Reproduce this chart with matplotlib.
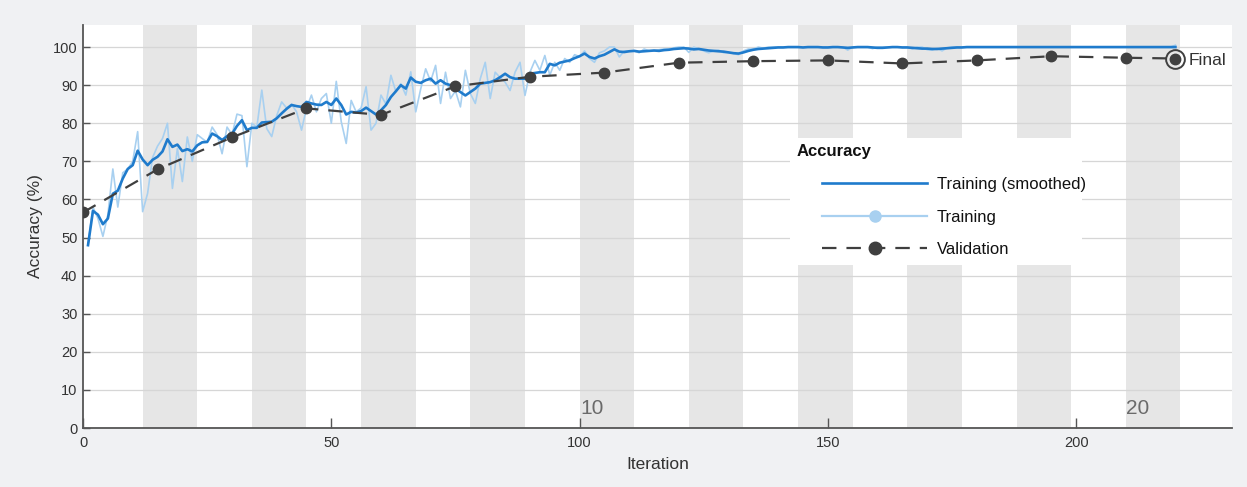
import matplotlib
matplotlib.use('Agg')
import matplotlib.pyplot as plt
from matplotlib.patches import Rectangle
from matplotlib.lines import Line2D

plt.rcParams['font.family'] = ['Liberation Sans', 'DejaVu Sans']

# Data #########################################################################
iters = list(range(1, 221))

smoothed = [
    48, 57, 56, 53.5, 55, 61.5, 62.3, 65.5, 68, 69,
    72.8, 70.5, 69, 70.4, 71.2, 72.6, 75.8, 73.8, 74.4, 72.7,
    73.2, 72.6, 74.2, 75, 75.1, 77.3, 76.6, 75.6, 76.6, 77.2,
    79.3, 80.8, 78.2, 78.8, 78.8, 80.2, 80.3, 80.4, 81.3, 82.6,
    83.8, 84.8, 84.5, 84.3, 85.6, 85.2, 84.9, 84.8, 85.6, 84.8,
    86.5, 84.8, 82.3, 83, 82.8, 83.2, 84.1, 83.2, 82.3, 83.4,
    84.8, 86.9, 88.4, 90, 89.1, 92, 90.9, 90.6, 91.3, 91.7,
    90.4, 91.3, 90.4, 90, 89.1, 88.2, 87.3, 88.2, 89.1, 90.4,
    90.6, 90.8, 91.3, 92.1, 93, 92.1, 91.7, 91.7, 91.7, 93,
    93.2, 93.4, 93.4, 95.6, 95.2, 95.9, 96.2, 96.5, 97.1, 97.6,
    98.3, 97.4, 97, 97.6, 98, 98.7, 99.4, 98.8, 98.7, 98.9,
    99, 98.8, 98.9, 99, 99.1, 99, 99.2, 99.3, 99.5, 99.6,
    99.7, 99.6, 99.4, 99.5, 99.3, 99.1, 99, 98.9, 98.8, 98.6,
    98.4, 98.3, 98.6, 99, 99.3, 99.5, 99.6, 99.7, 99.8, 99.9,
    99.9, 100, 100, 100, 99.9, 100, 100, 100, 99.9, 99.9,
    100, 100, 99.9, 99.8, 99.9, 100, 100, 100, 99.9, 99.8,
    99.8, 99.9, 100, 100, 99.9, 99.9, 99.8, 99.7, 99.6, 99.6,
    99.5, 99.5, 99.6, 99.7, 99.8, 99.9, 99.9, 100, 100, 100,
    100, 100, 100, 100, 100, 100, 100, 100, 100, 100,
    100, 100, 100, 100, 100, 100, 100, 100, 100, 100,
    100, 100, 100, 100, 100, 100, 100, 100, 100, 100,
    100, 100, 100, 100, 100, 100, 100, 100, 100, 100,
]

training = [
    48, 58, 55, 50.3, 56, 68, 58, 67, 68, 70,
    77.8, 56.8, 61.6, 71, 74, 76, 80, 62.9, 73.4, 64.7,
    76.4, 70, 77, 76, 75, 79, 77, 72, 79, 77,
    82.4, 82, 68.6, 80, 79, 88.7, 78.6, 76.5, 82, 85.6,
    84, 85, 83, 78.2, 84, 87.4, 83, 86.5, 87.8, 80,
    91, 80.4, 74.7, 86, 83, 84, 89.6, 78.2, 80, 87.4,
    85, 92.6, 88.3, 90.4, 87.4, 93.5, 83, 89, 94.3, 91,
    95.2, 85.2, 93.4, 86.5, 88.5, 84.3, 93.9, 87.8, 85.2, 91.7,
    96, 86.5, 93.4, 92, 90.8, 88.6, 93.4, 96, 87.3, 93.4,
    96.5, 93.9, 97.8, 92.6, 96, 93.9, 97, 96, 98, 97.5,
    99, 97, 96, 98.5, 99, 100, 100, 97.4, 99, 99,
    99, 98.5, 99.5, 99, 99, 99.3, 99.5, 99.5, 99.8, 100,
    100, 98.6, 100, 99.5, 99, 98.5, 99, 99.2, 98.5, 98.6,
    98.3, 98, 99, 99.5, 99.5, 100, 99.7, 100, 100, 100,
    100, 100, 100, 100, 100, 100, 100, 100, 100, 100,
    100, 100, 100, 99.2, 100, 100, 100, 100, 99.6, 100,
    100, 100, 100, 100, 100, 100, 99.5, 100, 100, 99.3,
    99.2, 99.7, 99, 99.8, 100, 100, 100, 100, 100, 100,
    100, 100, 100, 100, 100, 100, 100, 100, 100, 100,
    100, 100, 100, 100, 100, 100, 100, 100, 100, 100,
    100, 100, 100, 100, 100, 100, 100, 100, 100, 100,
    100, 100, 100, 100, 100, 100, 100, 100, 100, 100.5,
]

val_iters = [0, 15, 30, 45, 60, 75, 90, 105, 120, 135, 150, 165, 180, 195, 210, 220]
validation = [56.6, 67.9, 76.3, 83.9, 82.2, 89.7, 92.2, 93.3, 95.9, 96.3, 96.5, 95.7, 96.5, 97.6, 97.2, 97.0]

iters_per_epoch = 11
n_epochs = 20
epoch_labels = [10, 20]

# Colours ######################################################################
BG = '#f0f1f3'
BAND = '#e6e6e6'
DARK = '#3f3f3f'
BLUE = '#1f7bcc'
LIGHT = '#a8d0f0'
DASH = (6.5, 4.5)

fig = plt.figure(figsize=(12.47, 4.87), dpi=100, facecolor=BG)
ax = fig.add_axes([0.0666, 0.1211, 0.9214, 0.8276])
ax.set_facecolor('white')

# Grey bands for every other epoch
for k in range(2, n_epochs + 1, 2):
    ax.axvspan(iters_per_epoch * (k - 1) + 1, iters_per_epoch * k + 1, color=BAND, lw=0, zorder=0)

ax.set_axisbelow(True)
ax.yaxis.grid(True, color='#d6d6d6', lw=0.9)
ax.xaxis.grid(False)

# White box behind the legend
ax.add_patch(Rectangle((0.615, 0.404), 0.254, 0.316, transform=ax.transAxes,
                       facecolor='white', edgecolor='none', zorder=1))

# Epoch labels
for e in epoch_labels:
    ax.text(iters_per_epoch * (e - 1) + 1.1, 5.2, str(e), fontsize=15, color='#6a6a6a',
            va='center', ha='left', zorder=3)

# Lines
ax.plot(iters, training, color=LIGHT, lw=1.2, zorder=3)
ax.plot(iters, smoothed, color=BLUE, lw=1.9, zorder=4)
ax.plot(val_iters, validation, color=DARK, lw=1.6, dashes=DASH, marker='o',
        markersize=7.5, markerfacecolor=DARK, markeredgecolor=DARK, zorder=5)

# Final marker
ax.plot(val_iters[-1], validation[-1], marker='o', markersize=13.5, markerfacecolor='none',
        markeredgecolor=DARK, markeredgewidth=1.4, zorder=6)
ax.text(val_iters[-1] + 2.6, validation[-1] - 0.4, 'Final', fontsize=12.5, color='#333333',
        va='center', ha='left')

# Legend
handles = [
    Line2D([], [], color=BLUE, lw=1.9),
    Line2D([], [], color=LIGHT, lw=1.6, marker='o', markersize=8, markerfacecolor=LIGHT,
           markeredgecolor=LIGHT),
    Line2D([], [], color=DARK, lw=1.6, dashes=DASH, marker='o', markersize=9,
           markerfacecolor=DARK, markeredgecolor=DARK),
]
labels = ['Training (smoothed)', 'Training', 'Validation']
ax.text(0.6214, 0.685, 'Accuracy', transform=ax.transAxes, fontsize=12, fontweight='bold',
        va='center', ha='left', color='#111111', zorder=6)
leg = ax.legend(handles, labels, loc='upper left', bbox_to_anchor=(0.6432, 0.622),
                frameon=False, fontsize=12, handlelength=6.3, handletextpad=0.6,
                labelspacing=1.05, borderpad=0, numpoints=1, borderaxespad=0)
for t in leg.get_texts():
    t.set_color('#111111')

# Axes formatting
ax.set_xlim(0, 231.4)
ax.set_ylim(0, 105.8)
ax.set_xticks([0, 50, 100, 150, 200])
ax.set_yticks(range(0, 101, 10))
ax.tick_params(axis='x', direction='in', length=7, width=1, color='#555555',
               labelsize=10.5, labelcolor='#333333', pad=6)
ax.tick_params(axis='y', direction='in', length=5, width=1, color='#555555',
               labelsize=10.5, labelcolor='#333333', pad=4)
for s in ['top', 'right']:
    ax.spines[s].set_visible(False)
for s in ['left', 'bottom']:
    ax.spines[s].set_color('#555555')
    ax.spines[s].set_linewidth(1.3)

ax.set_xlabel('Iteration', fontsize=12.5, color='#333333', labelpad=5)
ax.set_ylabel('Accuracy (%)', fontsize=12.5, color='#333333', labelpad=7)

fig.savefig('out.png', dpi=100, facecolor=BG)
